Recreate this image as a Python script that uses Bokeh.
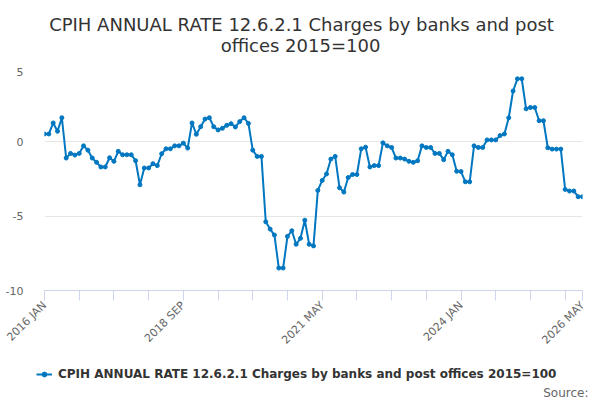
from bokeh.plotting import figure
from bokeh.models import Range1d, FixedTicker, Legend, LegendItem, Label, ColumnDataSource
from bokeh.layouts import column
from bokeh.embed import file_html
from bokeh.resources import INLINE
import math

# ---- data ----
values = [0.53, 0.53, 1.27, 0.71, 1.62, -1.09, -0.78, -0.89, -0.78, -0.27,
          -0.56, -1.09, -1.38, -1.69, -1.69, -1.07, -1.31, -0.64, -0.87, -0.87,
          -0.87, -1.27, -2.89, -1.76, -1.76, -1.47, -1.6, -0.8, -0.47, -0.47,
          -0.27, -0.27, -0.09, -0.42, 1.27, 0.51, 1.02, 1.53, 1.62, 1.02,
          0.8, 0.91, 1.11, 1.22, 1.0, 1.36, 1.62, 1.24, -0.56, -0.98,
          -0.98, -5.38, -5.87, -6.27, -8.49, -8.49, -6.36, -5.98, -6.89, -6.49,
          -5.27, -6.89, -7.0, -3.27, -2.6, -2.16, -1.16, -0.98, -3.09, -3.38,
          -2.4, -2.2, -2.2, -0.47, -0.36, -1.69, -1.6, -1.6, -0.07, -0.27,
          -0.38, -1.09, -1.09, -1.16, -1.31, -1.38, -1.27, -0.27, -0.38, -0.38,
          -0.78, -0.78, -1.2, -0.64, -0.87, -1.98, -2.0, -2.69, -2.69, -0.27,
          -0.38, -0.38, 0.13, 0.13, 0.13, 0.42, 0.53, 1.62, 3.42, 4.24,
          4.24, 2.22, 2.31, 2.31, 1.42, 1.42, -0.4, -0.49, -0.49, -0.49,
          -3.2, -3.31, -3.31, -3.69, -3.69]
month_index = list(range(len(values)))
tick_positions = [0, 8, 16, 24, 32, 40, 48, 56, 64, 72, 80, 88, 96, 104, 112, 120, 124]
label_positions = [0, 32, 64, 96, 124]
tick_labels = ["2016 JAN", "2018 SEP", "2021 MAY", "2024 JAN", "2026 MAY"]
y_ticks = [-10, -5, 0, 5]
y_tick_labels = ["-10", "-5", "0", "5"]
series_name = "CPIH ANNUAL RATE 12.6.2.1 Charges by banks and post offices 2015=100"
title_lines = ["CPIH ANNUAL RATE 12.6.2.1 Charges by banks and post", "offices 2015=100"]
source_text = "Source:"

FONT = "DejaVu Sans"
BLUE = "#0077c0"
W = 600
TITLE_H = 67
MAIN_H = 287
LEG_H = 46


def bare_figure(h):
    f = figure(width=W, height=h, output_backend="svg", toolbar_location=None,
               x_range=Range1d(0, W), y_range=Range1d(0, h),
               x_axis_location=None, y_axis_location=None, title=None,
               min_border=0, min_border_left=0, min_border_right=0,
               min_border_top=0, min_border_bottom=0, frame_align=False)
    f.outline_line_color = None
    f.xgrid.grid_line_color = None
    f.ygrid.grid_line_color = None
    return f


# ---- title strip ----
pt = bare_figure(TITLE_H)
for txt, base, cx in zip(title_lines, [24, 45], [301, 300]):
    pt.add_layout(Label(x=cx, y=TITLE_H - base, text=txt, text_align="center",
                        text_baseline="alphabetic", text_font=FONT, text_font_size="18px",
                        text_color="#333333"))

# ---- main chart ----
p = figure(width=W, height=MAIN_H, output_backend="svg", toolbar_location=None,
           x_range=Range1d(0, len(values) - 1), y_range=Range1d(-10, 5), title=None,
           min_border_left=44, min_border_right=18, min_border_top=0,
           min_border_bottom=MAIN_H - 225, frame_align=False)
p.outline_line_color = None

src = ColumnDataSource(dict(x=month_index, y=values))
r_line = p.line("x", "y", source=src, line_color=BLUE, line_width=2)
r_pts = p.scatter("x", "y", source=src, size=4, fill_color=BLUE, line_color=BLUE)

xa = p.xaxis[0]
xa.ticker = FixedTicker(ticks=tick_positions)
overrides = {t: "" for t in tick_positions}
for pos, lab in zip(label_positions, tick_labels):
    overrides[pos] = lab
xa.major_label_overrides = overrides
xa.major_label_orientation = math.pi / 4
xa.major_label_text_font = FONT
xa.major_label_text_font_size = "11px"
xa.major_label_text_color = "#666666"
xa.axis_line_color = "#ccd6eb"
xa.major_tick_line_color = "#ccd6eb"
xa.major_tick_out = 10
xa.major_tick_in = 0
xa.minor_tick_line_color = None
xa.major_label_standoff = 3

ya = p.yaxis[0]
ya.ticker = FixedTicker(ticks=y_ticks)
ya.major_label_overrides = {t: s for t, s in zip(y_ticks, y_tick_labels)}
ya.axis_line_color = None
ya.major_tick_line_color = None
ya.minor_tick_line_color = None
ya.major_label_text_font = FONT
ya.major_label_text_font_size = "11px"
ya.major_label_text_color = "#666666"
ya.major_label_standoff = 15

p.xgrid.grid_line_color = None
p.ygrid.ticker = FixedTicker(ticks=y_ticks)
p.ygrid.grid_line_color = "#e6e6e6"

# ---- legend strip ----
pl = bare_figure(LEG_H)
nan = float("nan")
key_line = pl.line(x=[nan, nan], y=[nan, nan], line_color=BLUE, line_width=2)
key_pts = pl.scatter(x=[nan], y=[nan], size=4, fill_color=BLUE, line_color=BLUE)
legend = Legend(items=[LegendItem(label=series_name, renderers=[key_line, key_pts])],
                location=(36, 19), orientation="horizontal",
                label_text_font=FONT, label_text_font_size="12px",
                label_text_font_style="bold", label_text_color="#333333",
                border_line_color=None, background_fill_alpha=0,
                glyph_width=16, glyph_height=12, label_height=12,
                label_standoff=6, padding=0, margin=0)
pl.add_layout(legend)
pl.add_layout(Label(x=588, y=8, text=source_text, text_align="right",
                    text_baseline="alphabetic", text_font=FONT, text_font_size="12px",
                    text_color="#666666"))

layout = column(pt, p, pl, spacing=0)
open("out.html", "w").write(file_html(layout, INLINE))
